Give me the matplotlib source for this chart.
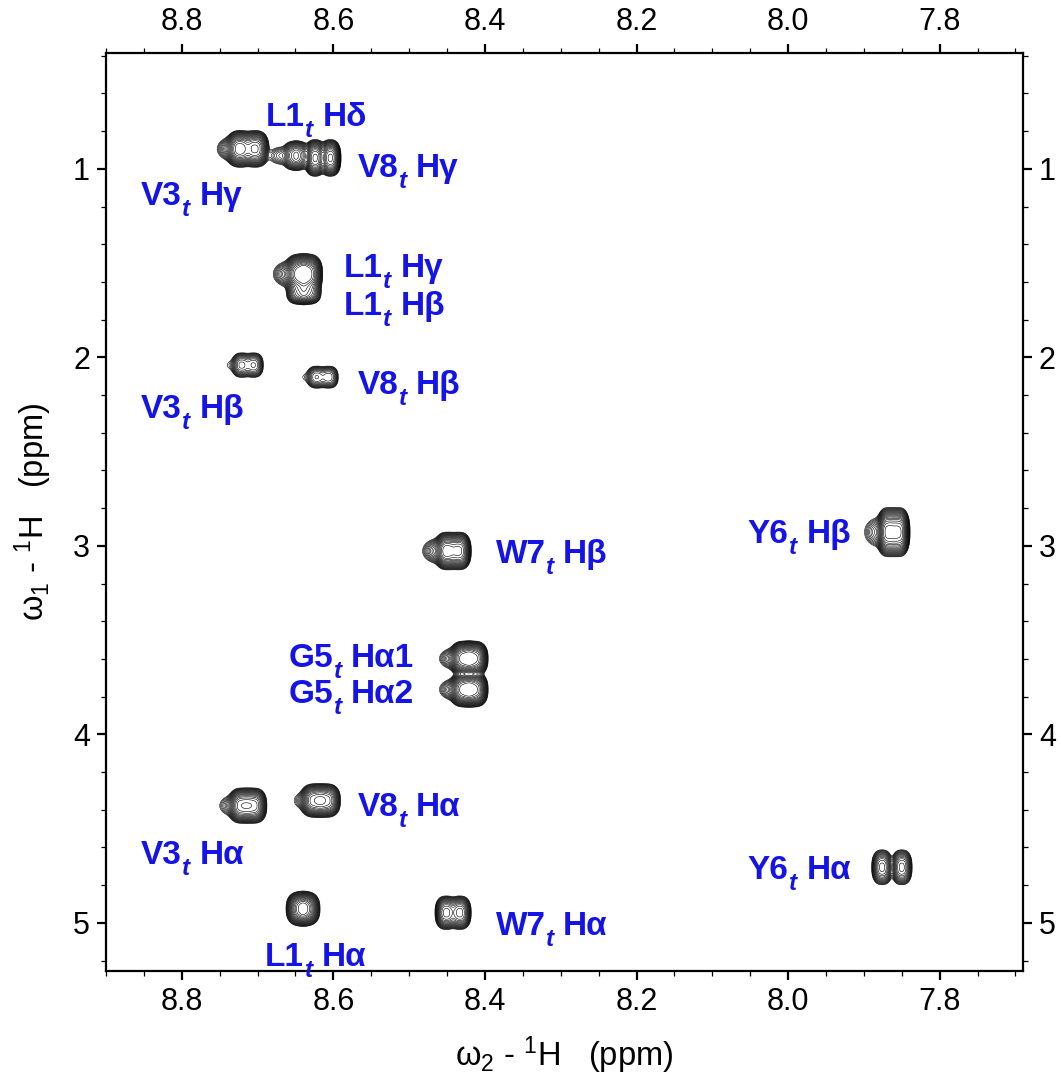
import numpy as np
import matplotlib
matplotlib.use("Agg")
import matplotlib.pyplot as plt
from matplotlib.ticker import MultipleLocator
from matplotlib.transforms import offset_copy

plt.rcParams['font.family'] = ['Liberation Sans', 'DejaVu Sans']
plt.rcParams['mathtext.fontset'] = 'custom'
plt.rcParams['mathtext.rm'] = 'Liberation Sans'
plt.rcParams['mathtext.it'] = 'Liberation Sans:italic'
plt.rcParams['mathtext.bf'] = 'Liberation Sans:bold'

# ---------------- data ----------------
peak_names = ["V3 Hg", "L1 Hd", "V8 Hg", "L1 Hg", "L1 Hb", "V3 Hb", "V8 Hb",
              "W7 Hb", "Y6 Hb", "G5 Ha1", "G5 Ha2", "V3 Ha", "V8 Ha",
              "L1 Ha", "W7 Ha", "Y6 Ha"]
peak_w2 = [8.713, 8.649, 8.614, 8.639, 8.639, 8.713, 8.614,
           8.442, 7.861, 8.421, 8.421, 8.713, 8.617, 8.640, 8.442, 7.863]
peak_w1 = [0.894, 0.930, 0.942, 1.558, 1.655, 2.041, 2.105,
           3.027, 2.927, 3.598, 3.762, 4.378, 4.351, 4.925, 4.946, 4.705]
peak_amp = [120, 45, 120, 150, 50, 30, 28,
            120, 150, 150, 150, 100, 100, 100, 80, 50]
peak_sig2 = [0.0078, 0.0064, 0.0061, 0.0080, 0.0080, 0.0064, 0.0064,
             0.0069, 0.0063, 0.0077, 0.0077, 0.0076, 0.0081, 0.0081, 0.0067, 0.0065]
peak_sig1 = [0.042, 0.036, 0.042, 0.0445, 0.030, 0.033, 0.030,
             0.043, 0.055, 0.039, 0.039, 0.041, 0.039, 0.039, 0.040, 0.044]
peak_split = [0.020, 0.008, 0.020, 0.012, 0.012, 0.016, 0.016,
              0.016, 0.014, 0.014, 0.014, 0.016, 0.016, 0.008, 0.018, 0.026]
peak_tail = [0.10, 0.12, 0.0, 0.08, 0.0, 0.05, 0.05,
             0.10, 0.05, 0.06, 0.06, 0.06, 0.04, 0.0, 0.0, 0.0]

label_res = ["L1", "V8", "V3", "L1", "L1", "V3", "V8", "W7", "Y6",
             "G5", "G5", "V8", "V3", "Y6", "W7", "L1"]
label_atom = ["Hδ", "Hγ", "Hγ", "Hγ", "Hβ", "Hβ", "Hβ", "Hβ", "Hβ",
              "Hα1", "Hα2", "Hα", "Hα", "Hα", "Hα", "Hα"]

# label anchor positions (layout, ppm)
label_x = [8.689, 8.568, 8.854, 8.586, 8.586, 8.854, 8.568, 8.386, 8.053,
           8.659, 8.659, 8.568, 8.854, 8.053, 8.386, 8.690]
label_y = [0.772, 1.042, 1.191, 1.574, 1.775, 2.322, 2.195, 3.092, 2.986,
           3.645, 3.836, 4.431, 4.686, 4.765, 5.063, 5.227]

xticks = [8.8, 8.6, 8.4, 8.2, 8.0, 7.8]
yticks = [1, 2, 3, 4, 5]

# ---------------- spectrum surface ----------------
x = np.arange(7.69, 8.9, 0.0008)
y = np.arange(0.38, 5.26, 0.003)
Z = np.zeros((y.size, x.size))
P = 2.5


def shape(u, s, p=P):
    return np.exp(-0.5 * np.abs(u / s) ** p)


for i in range(len(peak_w2)):
    a = peak_amp[i]
    gy = shape(y - peak_w1[i], peak_sig1[i])
    h = peak_split[i] / 2.0
    if h > 0:
        gx = 0.5 * (shape(x - (peak_w2[i] - h), peak_sig2[i]) +
                    shape(x - (peak_w2[i] + h), peak_sig2[i]))
    else:
        gx = shape(x - peak_w2[i], peak_sig2[i])
    Z += a * np.outer(gy, gx)
    if peak_tail[i] > 0:
        tx = shape(x - (peak_w2[i] + 0.018), 0.010, 2.0)
        ty = shape(y - peak_w1[i], 0.7 * peak_sig1[i], 2.0)
        Z += peak_tail[i] * a * np.outer(ty, tx)

levels = 1.0 * 1.25 ** np.arange(20)

# ---------------- figure ----------------
fig = plt.figure(figsize=(10.61, 10.78), dpi=100)
ax = fig.add_axes([0.0999, 0.0993, 0.8643, 0.8516])
ax.contour(x, y, Z, levels=levels, colors='black', linewidths=0.42)

ax.set_xlim(8.9, 7.69)
ax.set_ylim(5.255, 0.385)

renderer = fig.canvas.get_renderer()
blue = '#1414e6'
for i in range(len(label_res)):
    t1 = ax.text(label_x[i], label_y[i], label_res[i], fontsize=24,
                 fontweight='bold', color=blue, ha='left', va='baseline')
    w1 = t1.get_window_extent(renderer=renderer).width
    tr_t = offset_copy(ax.transData, fig=fig, x=w1 + 0.5, y=-11, units='dots')
    t2 = ax.text(label_x[i], label_y[i], "t", fontsize=17.5, fontweight='bold',
                 fontstyle='italic', color=blue, ha='left', va='baseline',
                 transform=tr_t)
    w2 = t2.get_window_extent(renderer=renderer).width
    tr_a = offset_copy(ax.transData, fig=fig, x=w1 + 0.5 + w2 + 9.0, y=0,
                       units='dots')
    ax.text(label_x[i], label_y[i], label_atom[i], fontsize=24,
            fontweight='bold', color=blue, ha='left', va='baseline',
            transform=tr_a)

ax.set_xticks(xticks)
ax.set_yticks(yticks)
ax.set_xticklabels([f"{v:.1f}" for v in xticks])
ax.set_yticklabels([str(v) for v in yticks])
ax.xaxis.set_minor_locator(MultipleLocator(0.05))
ax.yaxis.set_minor_locator(MultipleLocator(0.2))
ax.tick_params(which='both', direction='out', top=True, right=True,
               labeltop=True, labelright=True, labelsize=22, pad=5)
ax.tick_params(which='major', length=6.5, width=1.6)
ax.tick_params(which='minor', length=3.6, width=0.9)
for sp in ax.spines.values():
    sp.set_linewidth(1.6)

ax.set_xlabel(r"ω$\mathregular{_2}$ - $\mathregular{^1}$H   (ppm)",
              fontsize=23.5, labelpad=13)
ax.set_ylabel(r"ω$\mathregular{_1}$ - $\mathregular{^1}$H   (ppm)",
              fontsize=23.5, labelpad=14)

fig.savefig("out.png", dpi=100)
